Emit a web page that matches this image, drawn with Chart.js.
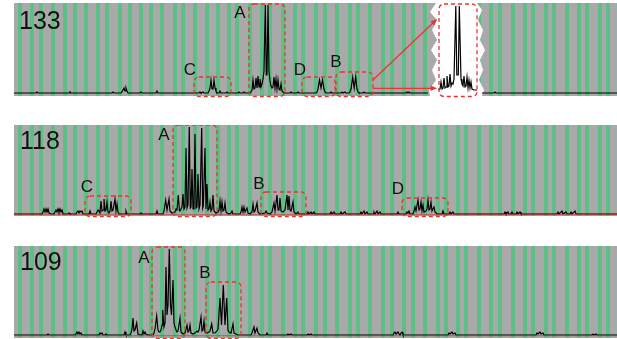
<!DOCTYPE html>
<html>
<head>
<meta charset="utf-8">
<title>Spectra 133 / 118 / 109</title>
<script src="https://cdn.jsdelivr.net/npm/chart.js@4.4.0/dist/chart.umd.min.js"></script>
<style>
  html, body { margin: 0; padding: 0; background: #fff; }
  body { width: 617px; height: 339px; position: relative; overflow: hidden; }
  .panel { position: absolute; left: 14px; width: 603px; }
</style>
</head>
<body>
<div class="panel" style="top:3px;height:96px"><canvas id="p133" width="603" height="96"></canvas></div>
<div class="panel" style="top:125px;height:94px"><canvas id="p118" width="603" height="94"></canvas></div>
<div class="panel" style="top:246px;height:93px"><canvas id="p109" width="603" height="93"></canvas></div>
<script>
// Channel axis is shared by all panels (14..617)
const channelMin = 14;
const channelMax = 617;

// Channels where the green marker stripes sit
const stripeChannels = [20, 32, 41, 53, 65, 75, 86, 98, 107, 120, 130, 141, 151, 162, 175, 183, 195, 207,
    218, 229, 237, 250, 262, 270, 283, 295, 303, 316, 325, 337, 350, 358, 370, 383, 392, 404, 413, 425,
    438, 446, 458, 466, 479, 491, 500, 513, 525, 533, 546, 554, 567, 579, 587, 600, 608];

// Trace 133: [channel, intensity]; null marks the gap behind the zoom inset
const trace133 = [[14,0],[36,0],[37,1],[38,0],[69,0],[70,1],[71,0],[112,0],[113,1],[114,0],[121,0],[122,1],
    [123,3],[124,5],[125,2],[126,5],[127,2],[128,0],[140,0],[141,1],[142,0],[156,0],[157,2],[158,0],[199,0],
    [200,1],[201,0],[203,1],[204,0],[208,0],[209,2],[210,5],[211,13],[212,4],[213,4],[214,13],[215,5],[216,2],
    [217,0],[219,0],[220,2],[221,0],[226,0],[227,1],[228,0],[238,0],[239,1],[240,0],[243,0],[244,1],[245,0],
    [250,0],[251,1],[252,3],[253,13],[254,4],[255,5],[256,15],[257,5],[258,17],[259,6],[260,14],[261,6],
    [262,9],[263,14],[264,22],[265.3,88],[266.3,18],[267,18],[268,88],[269,22],[270,12],[271,7],[272,5],
    [273,6],[274,16],[275,5],[276,14],[277,4],[278,13],[279,4],[280,3],[281,9],[282,2],[284,0],[290,0],
    [291,1],[292,0],[297,0],[298,1],[299,0],[316,0],[317,1],[318,4],[319.5,13],[321,5],[322.5,13],[324,4],
    [325,1],[326,0],[330,0],[331,1],[332,0],[341,0],[342,1],[343,0],[344,0],[345,1],[346,0],[349,0],[350,1],
    [351,4],[352.7,16],[354.2,5],[355.7,16],[357,4],[358,1],[359,0],[363,0],[364,1],[365,0],[406,0],[407,1],
    [408,0],[409,1],[410,0],[428,0],[429,null],[482,0],[494,0],[495,1],[496,0],[617,0]];

// Zoomed copy of peak A for trace 133
const inset133 = [[439,3],[440,4],[441,11],[442,4],[443,5],[444,15],[445,5],[446,6],[447,17],[448,6],
    [449,7],[450,19],[451,7],[452,10],[453,9],[454,14],[455.8,87],[456.8,18],[458.3,18],[459.3,87],[461,14],
    [462,9],[463,7],[464,17],[465,6],[466,7],[467,16],[468,5],[469,13],[470,5],[471,11],[472,4],[474,3],[477,3]];

const trace118 = [[14,0],[42,0],[43,2],[44,5],[45,2],[46,5],[47,2],[48,5],[49,1],[51,0],[54,0],[55,2],[56,4],
    [57,2],[58,5],[59,2],[60,5],[61,2],[62,4],[63,0],[68,0],[69,1],[70,0],[76,0],[77,2],[78,3],[79,1],[80,3],
    [81,2],[82,3],[83,0],[89,0],[90,3],[91,0],[96,0],[97,2],[98,4],[99,3],[100,1],[101,13],[102,3],[103,4],
    [104,15],[105,3],[106,4],[107,12],[108,2],[109,1],[110,3],[111,13],[112,3],[113,4],[115,15],[116,3],
    [117,10],[118,2],[119,0],[125,0],[126,3],[127,0],[140,0],[141,1],[142,0],[156,0],[157,3],[158,0],[163,0],
    [164,3],[165.7,14],[167,4],[169,15],[170,3],[171,2],[172,1],[175,2],[176,5],[177,4],[178.3,19],[179.5,3],
    [180,3],[181,5],[182,7],[183,20],[184,5],[185,7],[186,66],[187,6],[188,9],[189.3,87],[190.3,6],[191,7],
    [192,45],[193,5],[194,9],[195,80],[196,6],[197,7],[198,40],[199,5],[200,9],[201.7,86],[202.7,6],[203.3,8],
    [205,66],[206,5],[207,30],[208,4],[209,5],[210,12],[211,3],[212,5],[213,19],[214,3],[215,2],[216,1],
    [218,2],[219,4],[220,13],[221,3],[222,12],[223,3],[224,4],[225,11],[226,2],[227,1],[229,0],[231,1],
    [232,3],[233,0],[240,0],[241,2],[242,7],[243,2],[244,7],[245,2],[247,6],[248,1],[250,0],[252,2],[253,10],
    [254,2],[255,3],[257,11],[258,2],[260,0],[265,1],[266,3],[267,1],[270,0],[272,2],[274,11],[275,3],
    [277,19],[278,4],[279,4],[280,16],[281,3],[283,2],[285,4],[287,19],[288,4],[289,18],[290,4],[291,3],
    [293,12],[294,2],[296,0],[298,2],[299,0],[307,0],[308,2],[309,0],[311,2],[312,0],[314,2],[315,0],[330,0],
    [331,2],[332,0],[334,2],[335,0],[340,0],[341,2],[342,0],[345,2],[346,0],[360,0],[361,2],[362,0],[364,3],
    [365,0],[367,2],[368,0],[373,0],[374,2],[375,0],[377,3],[378,0],[380,2],[381,0],[397,0],[398,2],[399,0],
    [406,0],[407,2],[408,1],[409,3],[410,0],[413,0],[414,3],[415,7],[416,3],[418,14],[419,4],[420,5],[421,12],
    [422,3],[423,9],[424,2],[426,3],[427,5],[428,14],[429,4],[430,5],[431,12],[432,3],[434,7],[435,2],[437,0],
    [442,0],[443,3],[444,0],[449,0],[450,2],[451,0],[453,2],[454,0],[504,0],[505,2],[506,0],[508,2],[509,0],
    [511,0],[512,2],[513,0],[516,0],[517,2],[518,0],[520,2],[521,0],[557,0],[558,2],[559,0],[562,3],[563,0],
    [566,2],[567,0],[570,0],[571,2],[572,0],[575,3],[576,0],[617,0]];

const trace109 = [[14,0],[47,0],[48,1],[49,0],[75,0],[76,1],[77,3],[78,1],[79,3],[80,1],[81,2],[82,0],[99,0],
    [100,2],[101,1],[102,2],[103,0],[105,0],[106,1],[107,0],[124,0],[125,3],[126,0],[130,0],[131,2],[132,6],
    [133,17],[134,4],[135,5],[136.7,12],[138,1],[140,0],[142,0],[143,4],[144,1],[145,3],[146,1],[148,0],
    [153,0],[154,2],[155,6],[156.7,19],[158,5],[159,3],[160,3],[161,5],[162,10],[162.7,25],[164,8],[165,12],
    [166,68],[167,20],[168,30],[169.3,86],[170.5,30],[171.5,20],[173,55],[174,12],[175,8],[176,5],[177,3],
    [178,4],[180,17],[181,3],[183,1],[185,2],[187,10],[188,3],[189,4],[190,10],[191,2],[193,1],[195,2],[197,4],
    [198,3],[199,5],[201,18],[202,4],[203,5],[204,14],[205,3],[207,2],[209,3],[210,4],[211.7,11],[213,2],
    [215,2],[217,4],[218,6],[220,37],[221.5,10],[223.3,50],[225,10],[226.7,37],[228,5],[229,3],[231,2],
    [233,11],[234,2],[236,1],[238,0],[251,0],[252,2],[254,8],[255,2],[257,7],[258,2],[260,0],[266,0],[267,2],
    [268,0],[287,0],[288,1],[289,0],[291,1],[292,0],[307,0],[308,1],[309,0],[311,1],[312,0],[393,0],[394,2],
    [395,3],[396,1],[397,2],[398,3],[399,1],[400,0],[401,2],[402,3],[403,0],[448,0],[449,2],[450,1],[451,2],
    [452,3],[453,1],[455,2],[456,0],[536,0],[537,2],[538,1],[539,2],[540,3],[541,1],[543,2],[544,0],[592,0],
    [593,1],[594,0],[596,1],[597,0],[617,0]];

// Marked regions: channel range, top intensity, label anchor (channel, intensity)
const regions133 = [
    { label: 'A', from: 249, to: 285, top: 89, lx: 240, ly: 80 },
    { label: 'C', from: 194, to: 231, top: 16, lx: 190, ly: 23 },
    { label: 'D', from: 302, to: 335, top: 16, lx: 300, ly: 23 },
    { label: 'B', from: 336, to: 373, top: 21, lx: 336, ly: 31 },
    { label: '',  from: 439, to: 477, top: 89 }
];
const regions118 = [
    { label: 'A', from: 173, to: 217, top: 89, lx: 164, ly: 79 },
    { label: 'C', from: 85, to: 131, top: 18, lx: 87, ly: 27 },
    { label: 'B', from: 261, to: 306, top: 22, lx: 259, ly: 30 },
    { label: 'D', from: 402, to: 448, top: 16, lx: 398, ly: 25 }
];
const regions109 = [
    { label: 'A', from: 152, to: 185, top: 88, lx: 144, ly: 77 },
    { label: 'B', from: 206, to: 241, top: 53, lx: 205, ly: 62 }
];

// Torn-paper outline of the white inset behind the zoomed peak (channel, intensity)
const insetLeftEdge = [[436,90],[430,81],[437,73],[432,63],[437,53],[431,43],[437,33],[432,23],[436,13],[429,3],[430,-4]];
const insetRightEdge = [[477,90],[482,83],[478,73],[483,63],[480,53],[485,43],[480,33],[483,23],[479,13],[484,3],[482,-4]];

// Arrows from region B to the inset
const arrows133 = [[373, 13, 437, 74], [373, 4.7, 437, 4.7]];

const FONT = "'Liberation Sans', Arial, sans-serif";
const RED = '#e8352e';

/**
 * Draw an arrow with a filled head between two pixel points
 */
function drawArrow(ctx, x0, y0, x1, y1) {
    const ang = Math.atan2(y1 - y0, x1 - x0);
    ctx.beginPath();
    ctx.moveTo(x0, y0);
    ctx.lineTo(x1 - 5 * Math.cos(ang), y1 - 5 * Math.sin(ang));
    ctx.stroke();
    ctx.beginPath();
    ctx.moveTo(x1, y1);
    ctx.lineTo(x1 - 7 * Math.cos(ang - 0.4), y1 - 7 * Math.sin(ang - 0.4));
    ctx.lineTo(x1 - 7 * Math.cos(ang + 0.4), y1 - 7 * Math.sin(ang + 0.4));
    ctx.closePath();
    ctx.fill();
}

/**
 * Panel background, stripes, inset, dashed regions and labels
 */
const panelDecor = {
    id: 'panelDecor',
    beforeDatasetsDraw(chart, args, opts) {
        const { ctx, chartArea: a, scales: { x, y } } = chart;
        ctx.save();
        ctx.fillStyle = '#a9a9a9';
        ctx.fillRect(a.left, a.top, a.width, a.height);
        ctx.fillStyle = '#5cbf86';
        stripeChannels.forEach(c => {
            ctx.fillRect(Math.round(x.getPixelForValue(c) - 2), a.top, 4, a.height);
        });
        if (opts.inset) {
            const pts = insetLeftEdge.concat(insetRightEdge.slice().reverse());
            ctx.fillStyle = '#ffffff';
            ctx.beginPath();
            pts.forEach(([cx, cy], i) => {
                const px = x.getPixelForValue(cx);
                const py = Math.min(y.getPixelForValue(cy), a.bottom);
                if (i === 0) ctx.moveTo(px, a.top); else ctx.lineTo(px, py);
            });
            ctx.closePath();
            ctx.fill();
        }
        ctx.restore();
    },
    afterDatasetsDraw(chart, args, opts) {
        const { ctx, scales: { x, y } } = chart;
        ctx.save();

        // dashed region boxes
        ctx.strokeStyle = RED;
        ctx.lineWidth = 1.3;
        ctx.setLineDash([4, 3]);
        opts.regions.forEach(r => {
            const x0 = x.getPixelForValue(r.from);
            const x1 = x.getPixelForValue(r.to);
            const y0 = y.getPixelForValue(r.top);
            const y1 = y.getPixelForValue(opts.floor);
            ctx.beginPath();
            ctx.roundRect(x0, y0, x1 - x0, y1 - y0, 5);
            ctx.stroke();
        });
        ctx.setLineDash([]);

        // arrows
        ctx.fillStyle = RED;
        ctx.lineWidth = 1.2;
        (opts.arrows || []).forEach(([c0, v0, c1, v1]) => {
            drawArrow(ctx, x.getPixelForValue(c0), y.getPixelForValue(v0),
                x.getPixelForValue(c1), y.getPixelForValue(v1));
        });

        // region letters
        ctx.fillStyle = '#111';
        ctx.textAlign = 'center';
        ctx.textBaseline = 'middle';
        ctx.font = `17px ${FONT}`;
        opts.regions.forEach(r => {
            if (r.label) ctx.fillText(r.label, x.getPixelForValue(r.lx), y.getPixelForValue(r.ly));
        });

        // panel title
        ctx.textAlign = 'left';
        ctx.font = `25px ${FONT}`;
        ctx.fillText(opts.title, x.getPixelForValue(opts.titleAt[0]), y.getPixelForValue(opts.titleAt[1]));
        ctx.restore();
    }
};

const toPoints = arr => arr.map(([c, v]) => ({ x: c, y: v }));

/**
 * Build one spectrum panel
 */
function makePanel(canvasId, cfg) {
    const datasets = [];
    if (cfg.redBase) {
        datasets.push({
            data: toPoints([[channelMin, -0.6], [channelMax, -0.6]]),
            borderColor: 'rgba(200, 50, 45, 0.55)',
            borderWidth: 1.4
        });
    }
    datasets.push({ data: toPoints(cfg.trace), borderColor: '#000', borderWidth: 1.2, spanGaps: false });
    if (cfg.inset) {
        datasets.push({ data: toPoints(cfg.inset), borderColor: '#000', borderWidth: 1.2 });
    }

    return new Chart(document.getElementById(canvasId), {
        type: 'line',
        data: { datasets },
        options: {
            responsive: false,
            devicePixelRatio: 1,
            animation: false,
            layout: { padding: { left: 0, right: 0, top: 0, bottom: cfg.padBottom } },
            elements: { point: { radius: 0 }, line: { tension: 0 } },
            plugins: {
                legend: { display: false },
                tooltip: { enabled: false },
                panelDecor: {
                    regions: cfg.regions,
                    floor: cfg.yMin - 0.5,
                    title: cfg.title,
                    titleAt: cfg.titleAt,
                    arrows: cfg.arrows,
                    inset: !!cfg.inset
                }
            },
            scales: {
                x: { type: 'linear', min: channelMin, max: channelMax, display: false },
                y: { min: cfg.yMin, max: cfg.yMax, display: false }
            }
        },
        plugins: [panelDecor]
    });
}

makePanel('p133', {
    title: '133', titleAt: [19, 70.5], trace: trace133, inset: inset133,
    regions: regions133, arrows: arrows133, yMin: -3, yMax: 90, padBottom: 3
});
makePanel('p118', {
    title: '118', titleAt: [20, 72], trace: trace118, redBase: true,
    regions: regions118, yMin: -2, yMax: 89, padBottom: 3
});
makePanel('p109', {
    title: '109', titleAt: [20, 72], trace: trace109, redBase: true,
    regions: regions109, yMin: -3, yMax: 89, padBottom: 1
});
</script>
</body>
</html>
